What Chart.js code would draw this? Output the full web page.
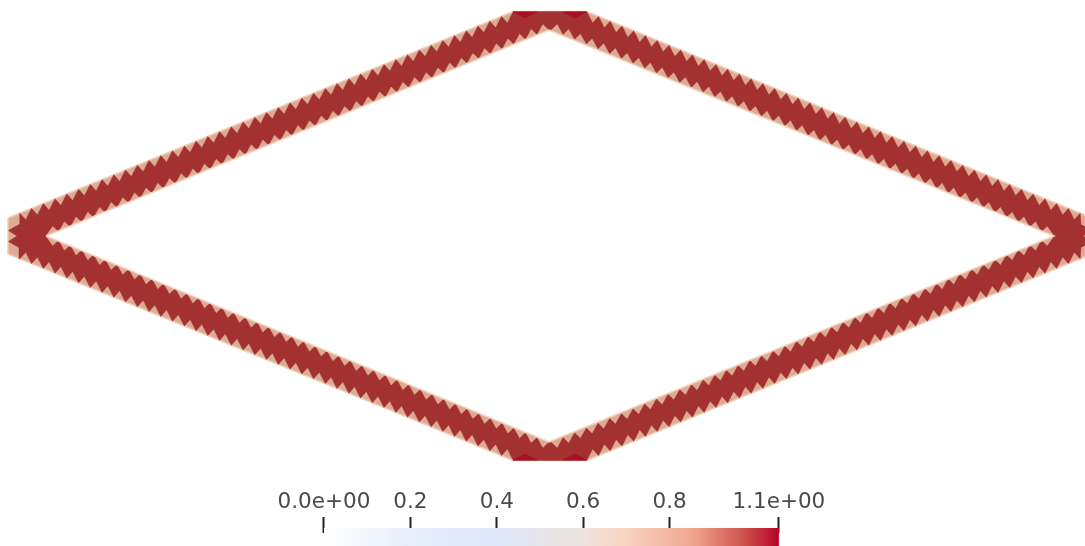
<!DOCTYPE html>
<html>
<head>
<meta charset="utf-8">
<title>Mesh field</title>
<script src="https://cdn.jsdelivr.net/npm/chart.js@4"></script>
<style>
  html, body { margin: 0; padding: 0; background: #fff; }
  canvas { display: block; filter: blur(0.7px); }
</style>
</head>
<body>
<canvas id="mesh-chart" width="1085" height="546"></canvas>
<script>
// top-left side of the mesh. the other three sides mirror it
const hullX = [8, 513.3, 586.7, 1092, 1092, 586.7, 513.3, 8]
const hullY = [218, 11.6, 11.6, 218, 254, 460.4, 460.4, 254]

const outerZigX = [17, 8.5, 19, 19.8, 25.7, 31.5, 37.4, 43.3, 49.2, 55, 60.9, 66.8, 72.7, 78.5, 84.4, 90.3, 96.2, 102, 107.9, 113.8, 119.7, 125.5, 131.4, 137.3, 143.2, 149, 154.9, 160.8, 166.7, 172.5, 178.4, 184.3, 190.2, 196, 201.9, 207.8, 213.7, 219.5, 225.4, 231.3, 237.2, 243, 248.9, 254.8, 260.7, 266.5, 272.4, 278.3, 284.2, 290, 295.9, 301.8, 307.7, 313.5, 319.4, 325.3, 331.2, 337, 342.9, 348.8, 354.7, 360.5, 366.4, 372.3, 378.2, 384, 389.9, 395.8, 401.7, 407.5, 413.4, 419.3, 425.2, 431, 436.9, 442.8, 448.7, 454.5, 460.4, 466.3, 472.2, 478, 483.9, 489.8, 495.7, 501.5, 507.4, 513.3, 550]
const outerZigY = [236, 230.5, 224.6, 213.2, 219.8, 208.4, 215, 203.6, 210.2, 198.8, 205.4, 194, 200.6, 189.2, 195.8, 184.4, 191, 179.6, 186.2, 174.8, 181.4, 170, 176.6, 165.2, 171.8, 160.4, 167, 155.6, 162.2, 150.8, 157.4, 146, 152.6, 141.2, 147.8, 136.4, 143, 131.6, 138.2, 126.8, 133.4, 122, 128.6, 117.2, 123.8, 112.4, 119, 107.6, 114.2, 102.8, 109.4, 98, 104.6, 93.2, 99.8, 88.4, 95, 83.6, 90.2, 78.8, 85.4, 74, 80.6, 69.2, 75.8, 64.4, 71, 59.6, 66.2, 54.8, 61.4, 50, 56.6, 45.2, 51.8, 40.4, 47, 35.6, 42.2, 30.8, 37.4, 26, 32.6, 21.2, 27.8, 16.4, 23, 11.6, 11.6]

const innerZigX = [46, 52.8, 58.7, 64.5, 70.3, 76.1, 82, 87.8, 93.7, 99.5, 105.4, 111.2, 117, 122.8, 128.7, 134.5, 140.4, 146.2, 152, 157.8, 163.7, 169.5, 175.4, 181.2, 187, 192.8, 198.7, 204.5, 210.4, 216.2, 222.1, 227.9, 233.7, 239.5, 245.4, 251.2, 257.1, 262.9, 268.7, 274.5, 280.4, 286.2, 292.1, 297.9, 303.7, 309.5, 315.4, 321.2, 327.1, 332.9, 338.8, 344.6, 350.4, 356.2, 362.1, 367.9, 373.8, 379.6, 385.4, 391.2, 397.1, 402.9, 408.8, 414.6, 420.4, 426.2, 432.1, 437.9, 443.8, 449.6, 455.5, 461.3, 467.1, 472.9, 478.8, 484.6, 490.5, 496.3, 502.1, 507.9, 513.8, 519.6, 525.5, 531.3, 537.1, 542.9, 548.8]
const innerZigY = [236, 226.6, 232.2, 221.8, 227.4, 217, 222.6, 212.2, 217.8, 207.4, 212.9, 202.5, 208.1, 197.7, 203.3, 192.9, 198.5, 188.1, 193.7, 183.3, 188.9, 178.5, 184.1, 173.7, 179.3, 168.9, 174.5, 164.1, 169.7, 159.3, 164.9, 154.5, 160, 149.6, 155.2, 144.8, 150.4, 140, 145.6, 135.2, 140.8, 130.4, 136, 125.6, 131.2, 120.8, 126.4, 116, 121.6, 111.2, 116.8, 106.4, 112, 101.6, 107.1, 96.7, 102.3, 91.9, 97.5, 87.1, 92.7, 82.3, 87.9, 77.5, 83.1, 72.7, 78.3, 67.9, 73.5, 63.1, 68.7, 58.3, 63.8, 53.4, 59, 48.6, 54.2, 43.8, 49.4, 39, 44.6, 34.2, 39.8, 29.4, 35, 24.6, 30.2]

const holeX = [46, 549, 1054, 549]
const holeY = [236, 30, 236, 442]

// the brightest cells, at the flat top and bottom corners
const hotCellX = [[513, 537, 525], [563, 587, 575], [513, 537, 525], [563, 587, 575]]
const hotCellY = [[12, 12, 18], [12, 12, 18], [460, 460, 454], [460, 460, 454]]

const barTicks = [0, 0.2, 0.4, 0.6, 0.8, 1.053]
const barLabels = ['0.0e+00', '0.2', '0.4', '0.6', '0.8', '1.1e+00']
const barStops = [0, 0.2, 0.4, 0.6, 0.7, 0.85, 0.97, 1.053]
const barColors = ['#ffffff', '#e6edfb', '#dfe8fa', '#eee4dd', '#f8d3c1', '#f0a88f', '#cf5450', '#b40426']

const peach = '#dcab92'
const brick = '#a3312f'

const mirrorX = x => 1100 - x
const mirrorY = y => 472 - y

function points(xs, ys) {
  return xs.map((x, i) => ({ x: x, y: ys[i] }))
}

// walk the four sides from one quarter of the outline
function loop(xs, ys) {
  const tl = points(xs, ys)
  const tr = tl.map(p => ({ x: mirrorX(p.x), y: p.y })).reverse()
  const br = tl.map(p => ({ x: mirrorX(p.x), y: mirrorY(p.y) }))
  const bl = tl.map(p => ({ x: p.x, y: mirrorY(p.y) })).reverse()
  return tl.concat(tr, br, bl)
}

function closed(pts) {
  return pts.concat([pts[0]])
}

function shape(data, color, order, border) {
  return {
    data: data,
    showLine: true,
    fill: 'shape',
    tension: 0,
    pointRadius: 0,
    backgroundColor: color,
    borderColor: border || color,
    borderWidth: border ? 1.5 : 0.5,
    order: order
  }
}

function barGradient(ctx) {
  const chart = ctx.chart
  if (!chart.chartArea) return '#fff'
  const scale = chart.scales.xBar
  const left = scale.getPixelForValue(barStops[0])
  const right = scale.getPixelForValue(barStops[barStops.length - 1])
  const grad = chart.ctx.createLinearGradient(left, 0, right, 0)
  barStops.forEach((s, i) => grad.addColorStop(s / barStops[barStops.length - 1], barColors[i]))
  return grad
}

const hotSets = hotCellX.map((xs, i) => shape(closed(points(xs, hotCellY[i])), '#a80f28', 3))

const barSet = {
  data: [{ x: 0, y: 528 }, { x: 1.053, y: 528 }, { x: 1.053, y: 546 }, { x: 0, y: 546 }, { x: 0, y: 528 }],
  xAxisID: 'xBar',
  showLine: true,
  fill: 'shape',
  pointRadius: 0,
  borderWidth: 0,
  backgroundColor: barGradient,
  order: 0
}

const chart = new Chart(document.getElementById('mesh-chart'), {
  type: 'scatter',
  data: {
    datasets: [
      shape(closed(points(hullX, hullY)), peach, 5, '#f3cdb8'),
      shape(closed(loop(outerZigX, outerZigY)), brick, 4),
      ...hotSets,
      shape(closed(loop(innerZigX, innerZigY)), peach, 2),
      shape(closed(points(holeX, holeY)), '#ffffff', 1, '#f6d2bf'),
      barSet
    ]
  },
  options: {
    responsive: false,
    animation: false,
    layout: { padding: 0 },
    plugins: { legend: { display: false }, tooltip: { enabled: false } },
    scales: {
      x: { type: 'linear', min: 0, max: 1085, display: false },
      y: { type: 'linear', min: 0, max: 546, reverse: true, display: false },
      xBar: {
        type: 'linear',
        min: -0.75,
        max: 1.7616,
        position: { y: 517 },
        afterBuildTicks: scale => { scale.ticks = barTicks.map(v => ({ value: v })) },
        border: { display: false },
        grid: { drawOnChartArea: false, drawTicks: true, tickLength: 16, tickWidth: 2, color: '#222' },
        ticks: {
          autoSkip: false,
          maxRotation: 0,
          padding: -43,
          color: '#4a4a4a',
          font: { family: 'DejaVu Sans', size: 21.5 },
          callback: (value, index) => barLabels[index]
        }
      }
    }
  }
})
</script>
</body>
</html>
